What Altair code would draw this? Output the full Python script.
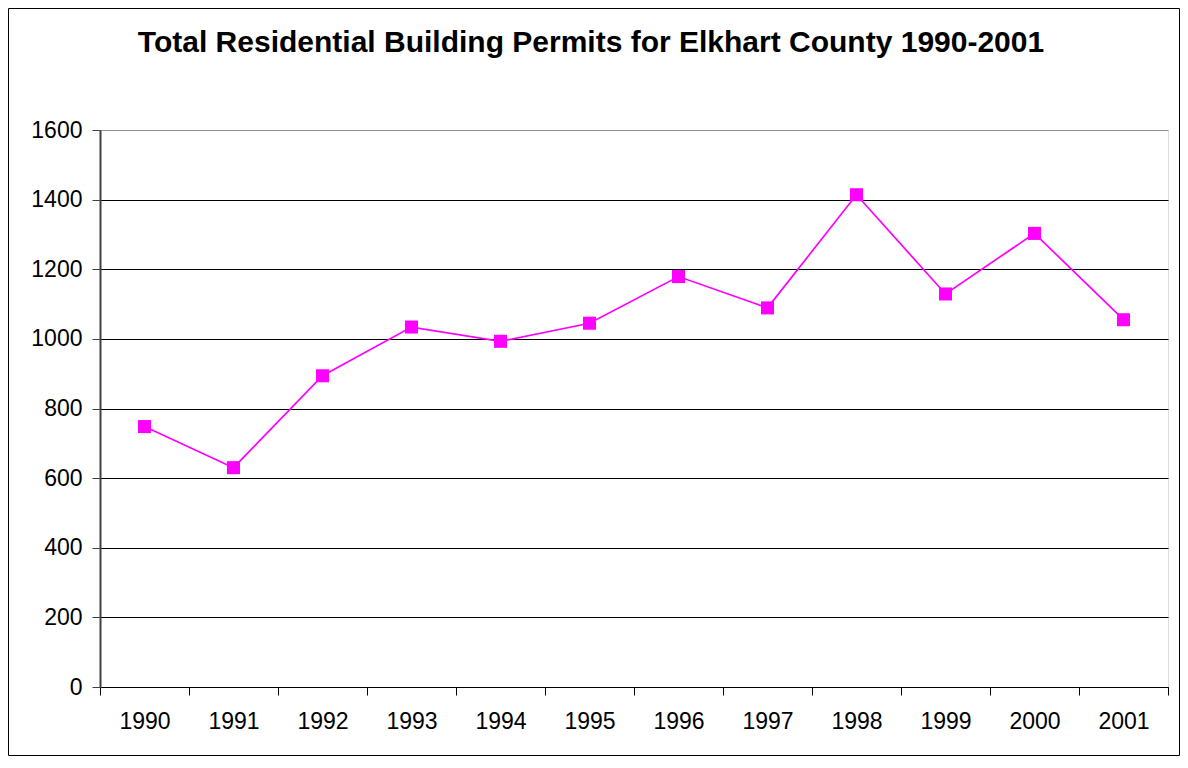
import altair as alt
import pandas as pd

years = ["1990", "1991", "1992", "1993", "1994", "1995", "1996", "1997", "1998", "1999", "2000", "2001"]
permits = [748, 630, 894, 1034, 993, 1045, 1179, 1089, 1414, 1129, 1303, 1055]
y_ticks = [0, 200, 400, 600, 800, 1000, 1200, 1400, 1600]
title_text = ["Total Residential Building Permits for Elkhart County 1990-2001"]

df = pd.DataFrame({"year": years, "permits": permits})
tdf = pd.DataFrame({"t": title_text})

W, H = 1068, 557
PAD = {"left": 92, "top": 122, "right": 12, "bottom": 69}
FONT = "Liberation Sans"

x_enc = alt.X(
    "year:O",
    sort=years,
    scale=alt.Scale(type="band", paddingInner=0, paddingOuter=0),
    axis=alt.Axis(
        title=None, labelAngle=0, labelFont=FONT, labelFontSize=23, labelColor="black",
        tickBand="extent", tickSize=8, tickColor="black", domainColor="black",
        labelPadding=15, grid=False,
    ),
)
y_enc = alt.Y(
    "permits:Q",
    scale=alt.Scale(domain=[0, 1600], nice=False),
    axis=alt.Axis(
        title=None, values=y_ticks, format="d", labelFont=FONT, labelFontSize=23, labelColor="black",
        tickSize=8, tickColor="#404040", domainColor="#404040", domainWidth=2,
        gridColor=alt.condition("datum.value == 1600", alt.value("#909090"), alt.value("black")),
        gridWidth=1, labelPadding=10,
    ),
)

line = alt.Chart(df).mark_line(color="#FF00FF", strokeWidth=1.7).encode(x=x_enc, y=y_enc)
pts = alt.Chart(df).mark_point(shape="square", filled=True, size=170, color="#FF00FF", opacity=1).encode(x=x_enc, y=y_enc)

frame = alt.Chart(tdf).mark_rect(fill=None, stroke="black", strokeWidth=1).encode(
    x=alt.value(-PAD["left"] + 0.5),
    x2=alt.value(W + PAD["right"] - 0.5),
    y=alt.value(-PAD["top"] + 0.5),
    y2=alt.value(H + PAD["bottom"] - 0.5),
)

title = alt.Chart(tdf).mark_text(
    font=FONT, fontSize=30, fontWeight="bold", color="black", align="center", baseline="alphabetic"
).encode(
    x=alt.value(491),
    y=alt.value(-78),
    text="t:N",
)

chart = alt.layer(line, pts, frame, title).properties(
    width=W,
    height=H,
    padding=PAD,
    autosize=alt.AutoSizeParams(type="none"),
).configure_view(stroke="#909090", strokeWidth=1).configure(background="white")

chart.save("out.html", embed_options={"renderer": "svg", "actions": False})
